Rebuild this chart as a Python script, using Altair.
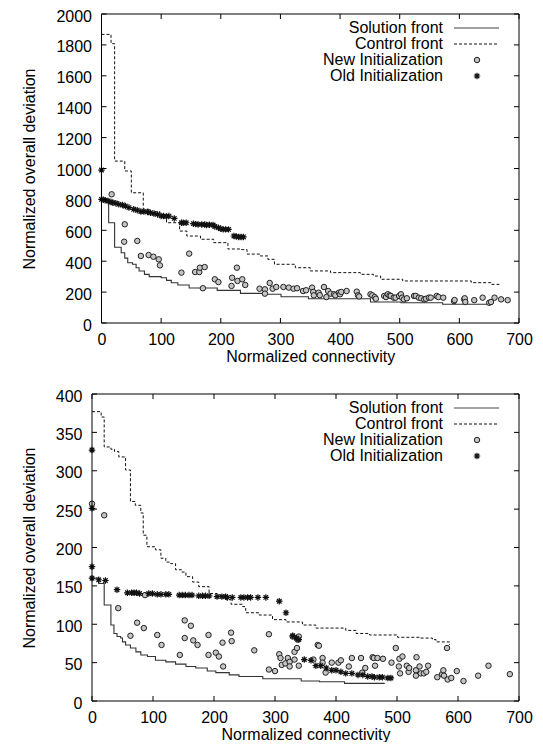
import altair as alt
import pandas as pd

# ---------------- top panel ----------------
top_sol_x = [0, 0, 12, 22, 33, 39, 44, 52, 58, 63, 72, 80, 100, 109, 117, 128, 147, 194, 233, 278, 301, 347, 451, 502, 572, 655]
top_sol_y = [990, 800, 649, 490, 455, 420, 390, 380, 358, 337, 315, 300, 293, 276, 261, 246, 227, 211, 192, 186, 170, 157, 136, 131, 121, 121]

top_ctl_x = [0, 16, 22, 39, 50, 70, 80, 98, 109, 131, 143, 166, 188, 212, 232, 244, 266, 279, 290, 325, 350, 384, 434, 456, 468, 505, 620, 653, 667]
top_ctl_y = [1868, 1808, 1048, 984, 843, 736, 720, 703, 649, 595, 563, 542, 520, 479, 475, 446, 434, 412, 380, 358, 337, 326, 315, 304, 283, 272, 261, 250, 250]

top_new_x = [17, 39, 38, 60, 66, 79, 87, 96, 98, 134, 147, 157, 164, 165, 173, 170, 190, 196, 218, 219,
             227, 228, 236, 241, 265, 274, 274, 282, 287, 293, 305, 314, 322, 328, 338, 343, 353, 355, 356, 364,
             366, 373, 377, 380, 384, 390, 392, 398, 400, 402, 411, 428, 430, 432, 451, 454, 458, 460, 474, 477,
             480, 483, 485, 490, 493, 499, 502, 504, 507, 512, 524, 527, 532, 536, 541, 544, 549, 552, 562, 565,
             573, 591, 592, 608, 609, 610, 625, 639, 650, 653, 659, 670, 681]
top_new_y = [833, 639, 526, 531, 434, 440, 429, 412, 373, 326, 449, 330, 330, 358, 362, 225, 283, 265, 240, 293,
             358, 272, 283, 246, 222, 218, 190, 259, 222, 233, 233, 229, 222, 225, 207, 212, 229, 201, 179, 196,
             180, 233, 168, 207, 190, 186, 179, 196, 186, 201, 207, 203, 179, 172, 186, 179, 168, 157, 175, 168,
             186, 179, 175, 164, 164, 175, 186, 164, 153, 160, 175, 175, 164, 160, 153, 157, 164, 164, 175, 168,
             164, 142, 149, 153, 160, 136, 148, 164, 131, 136, 164, 153, 148]

top_old_x = [0, 0, 3, 6, 11, 16, 19, 24, 29, 35, 40, 46, 54, 60, 66, 71, 77, 82, 88, 94,
             100, 104, 109, 113, 122, 134, 137, 142, 154, 158, 162, 168, 173, 176, 181, 187, 190, 196, 200, 204,
             208, 213, 222, 226, 230, 234, 238]
top_old_y = [990, 800, 798, 795, 790, 783, 779, 775, 768, 764, 757, 747, 736, 730, 721, 721, 719, 714, 708, 703,
             693, 692, 690, 692, 677, 649, 649, 649, 643, 640, 638, 638, 637, 634, 636, 634, 625, 617, 610, 606,
             606, 606, 563, 560, 557, 557, 557]

top_x_ticks = [0, 100, 200, 300, 400, 500, 600, 700]
top_y_ticks = [0, 200, 400, 600, 800, 1000, 1200, 1400, 1600, 1800, 2000]

# ---------------- bottom panel ----------------
bot_sol_x = [0, 11, 20, 31, 36, 41, 47, 50, 55, 63, 72, 80, 91, 104, 121, 137, 154, 170, 189, 203, 225, 241, 280, 343, 373, 414, 480]
bot_sol_y = [160, 153, 125, 99, 88, 84, 82, 77, 73, 69, 64, 60, 58, 53, 51, 48, 45, 43, 39, 37, 34, 32, 29, 26, 25, 23, 23]

bot_ctl_x = [0, 15, 20, 31, 37, 44, 55, 63, 71, 80, 84, 90, 104, 113, 121, 129, 137, 147, 154, 165,
             175, 192, 205, 220, 228, 247, 252, 274, 296, 318, 345, 367, 416, 433, 455, 501, 539, 558, 564, 586]
bot_ctl_y = [377, 370, 331, 328, 325, 318, 301, 260, 255, 245, 216, 201, 197, 186, 181, 179, 171, 168, 162, 155,
             149, 140, 138, 132, 126, 123, 115, 112, 106, 103, 99, 95, 92, 88, 86, 83, 82, 80, 77, 73]

bot_new_x = [0, 20, 43, 63, 74, 85, 87, 107, 114, 144, 152, 152, 162, 166, 173, 191, 191, 203, 208, 214,
             215, 228, 229, 266, 290, 290, 300, 307, 309, 311, 317, 321, 324, 324, 329, 332, 332, 336, 337, 339,
             339, 363, 370, 372, 378, 378, 383, 393, 404, 408, 421, 426, 441, 443, 448, 460, 462, 464, 468, 477,
             491, 498, 503, 504, 505, 509, 516, 519, 520, 531, 531, 532, 537, 539, 544, 548, 551, 566, 574, 576,
             577, 582, 583, 589, 598, 609, 633, 650, 685]
bot_new_y = [257, 242, 121, 85, 102, 95, 138, 86, 73, 60, 105, 82, 98, 79, 73, 86, 60, 63, 58, 76,
             45, 89, 78, 66, 87, 41, 39, 61, 56, 47, 49, 56, 51, 45, 84, 64, 54, 69, 80, 84,
             46, 54, 73, 72, 56, 50, 37, 50, 50, 53, 45, 56, 56, 37, 43, 57, 56, 46, 56, 55,
             50, 69, 45, 55, 36, 58, 46, 38, 43, 40, 33, 57, 45, 36, 36, 38, 46, 31, 35, 40,
             33, 69, 28, 30, 39, 26, 33, 46, 35]

bot_old_x = [0, 0, 0, 0, 11, 22, 41, 58, 65, 69, 73, 78, 93, 99, 107, 113, 121, 126, 143, 148,
             153, 159, 164, 175, 181, 186, 192, 205, 213, 219, 222, 230, 244, 249, 255, 260, 272, 285, 307, 318,
             329, 335, 339, 348, 359, 367, 375, 384, 393, 400, 408, 416, 426, 436, 444, 452, 459, 463, 471, 476,
             485, 490]
bot_old_y = [327, 251, 175, 160, 158, 157, 145, 141, 141, 141, 141, 140, 140, 140, 139, 139, 139, 139, 138, 138,
             138, 138, 138, 137, 137, 137, 137, 136, 136, 136, 135, 135, 135, 135, 135, 135, 135, 135, 130, 115,
             85, 82, 80, 54, 53, 46, 46, 43, 40, 40, 38, 36, 36, 34, 34, 32, 32, 31, 31, 31,
             30, 30]

bot_x_ticks = [0, 100, 200, 300, 400, 500, 600, 700]
bot_y_ticks = [0, 50, 100, 150, 200, 250, 300, 350, 400]

legend_labels = ["Solution front", "Control front", "New Initialization", "Old Initialization"]

FONT = "Liberation Sans"
STAR = "M-1,0H1M0,-1V1M-0.7,-0.7L0.7,0.7M-0.7,0.7L0.7,-0.7"
ONE = pd.DataFrame({"k": [0]})


def panel(W, H, x0, xdom, ydom, xticks, yticks, sx, sy, cx, cy, nx, ny, ox, oy):
    # x0: left edge of the plot frame inside the group (lets the two panels' frames differ, as in the original)
    xs = alt.Scale(domain=xdom, range=[x0, W], nice=False, zero=False)
    ys = alt.Scale(domain=ydom, nice=False, zero=False)
    yaxis = alt.Axis(title="Normalized overall deviation", values=yticks, format="d")
    if x0:
        yaxis = alt.Axis(title="Normalized overall deviation", values=yticks, format="d", offset=-x0)
    X = alt.X("x:Q", scale=xs, axis=alt.Axis(title="Normalized connectivity", values=xticks, format="d"))
    Y = alt.Y("y:Q", scale=ys, axis=yaxis)

    sol = pd.DataFrame({"x": sx, "y": sy, "i": list(range(len(sx)))})
    ctl = pd.DataFrame({"x": cx, "y": cy, "i": list(range(len(cx)))})
    new = pd.DataFrame({"x": nx, "y": ny})
    old = pd.DataFrame({"x": ox, "y": oy})
    xt = pd.DataFrame({"x": xticks})
    yt = pd.DataFrame({"y": yticks})

    layers = []
    layers.append(alt.Chart(ctl).mark_line(interpolate="step-after", color="#111", strokeWidth=1,
                                           strokeDash=[3, 2]).encode(X, Y, order="i:Q"))
    layers.append(alt.Chart(sol).mark_line(interpolate="step-after", color="#333", strokeWidth=1.1)
                  .encode(X, Y, order="i:Q"))
    layers.append(alt.Chart(new).mark_point(shape="circle", size=30, filled=True, fill="#c4c4c4",
                                            stroke="#222", strokeWidth=1, opacity=1).encode(X, Y))
    layers.append(alt.Chart(old).mark_point(shape=STAR, size=42, filled=False, color="#111",
                                            strokeWidth=1.2, opacity=1).encode(X, Y))
    # frame
    layers.append(alt.Chart(ONE).mark_rect(filled=False, stroke="black", strokeWidth=1)
                  .encode(x=alt.value(x0), x2=alt.value(W), y=alt.value(0), y2=alt.value(H)))
    # inward ticks on all four sides (gnuplot style)
    tl = 5
    layers.append(alt.Chart(xt).mark_rule(color="black", strokeWidth=1)
                  .encode(X, y=alt.value(H), y2=alt.value(H - tl)))
    layers.append(alt.Chart(xt).mark_rule(color="black", strokeWidth=1)
                  .encode(X, y=alt.value(0), y2=alt.value(tl)))
    layers.append(alt.Chart(yt).mark_rule(color="black", strokeWidth=1)
                  .encode(Y, x=alt.value(x0), x2=alt.value(x0 + tl)))
    layers.append(alt.Chart(yt).mark_rule(color="black", strokeWidth=1)
                  .encode(Y, x=alt.value(W), x2=alt.value(W - tl)))

    # key (inside, top-right)
    tx = W - 76
    lx1, lx2, px = W - 65, W - 20, W - 42
    for i, lab in enumerate(legend_labels):
        ty = 14 + 16 * i
        layers.append(alt.Chart(ONE).mark_text(text=lab, align="right", baseline="middle", font=FONT,
                                               fontSize=16, color="black")
                      .encode(x=alt.value(tx), y=alt.value(ty)))
        if i == 0:
            layers.append(alt.Chart(ONE).mark_rule(color="#444", strokeWidth=1.1)
                          .encode(x=alt.value(lx1), x2=alt.value(lx2), y=alt.value(ty)))
        elif i == 1:
            layers.append(alt.Chart(ONE).mark_rule(color="#111", strokeWidth=1, strokeDash=[3, 2])
                          .encode(x=alt.value(lx1), x2=alt.value(lx2), y=alt.value(ty)))
        elif i == 2:
            layers.append(alt.Chart(ONE).mark_point(shape="circle", size=30, filled=True, fill="#c4c4c4",
                                                    stroke="#222", strokeWidth=1, opacity=1)
                          .encode(x=alt.value(px), y=alt.value(ty)))
        else:
            layers.append(alt.Chart(ONE).mark_point(shape=STAR, size=42, filled=False, color="#111",
                                                    strokeWidth=1.2, opacity=1)
                          .encode(x=alt.value(px), y=alt.value(ty)))
    return alt.layer(*layers).properties(width=W, height=H)


top = panel(427, 309, 9.5, [0, 700], [0, 2000], top_x_ticks, top_y_ticks,
            top_sol_x, top_sol_y, top_ctl_x, top_ctl_y, top_new_x, top_new_y, top_old_x, top_old_y)
bottom = panel(427, 307, 0, [0, 700], [0, 400], bot_x_ticks, bot_y_ticks,
               bot_sol_x, bot_sol_y, bot_ctl_x, bot_ctl_y, bot_new_x, bot_new_y, bot_old_x, bot_old_y)

chart = (
    alt.vconcat(top, bottom, spacing=24)
    .properties(padding={"left": 13, "top": 0, "right": 0, "bottom": 0})
    .configure_view(stroke="transparent", strokeWidth=0)
    .configure_axis(labelFont=FONT, labelFontSize=16, labelColor="black", titleFont=FONT,
                    titleFontSize=16, titleFontWeight="normal", titleColor="black",
                    ticks=False, domain=False, grid=False)
    .configure_axisX(labelPadding=8, titlePadding=1, labelFlush=False)
    .configure_axisY(labelPadding=10, titlePadding=18, labelOffset=2)
)

chart.save("out.html", embed_options={"renderer": "svg", "actions": False})
